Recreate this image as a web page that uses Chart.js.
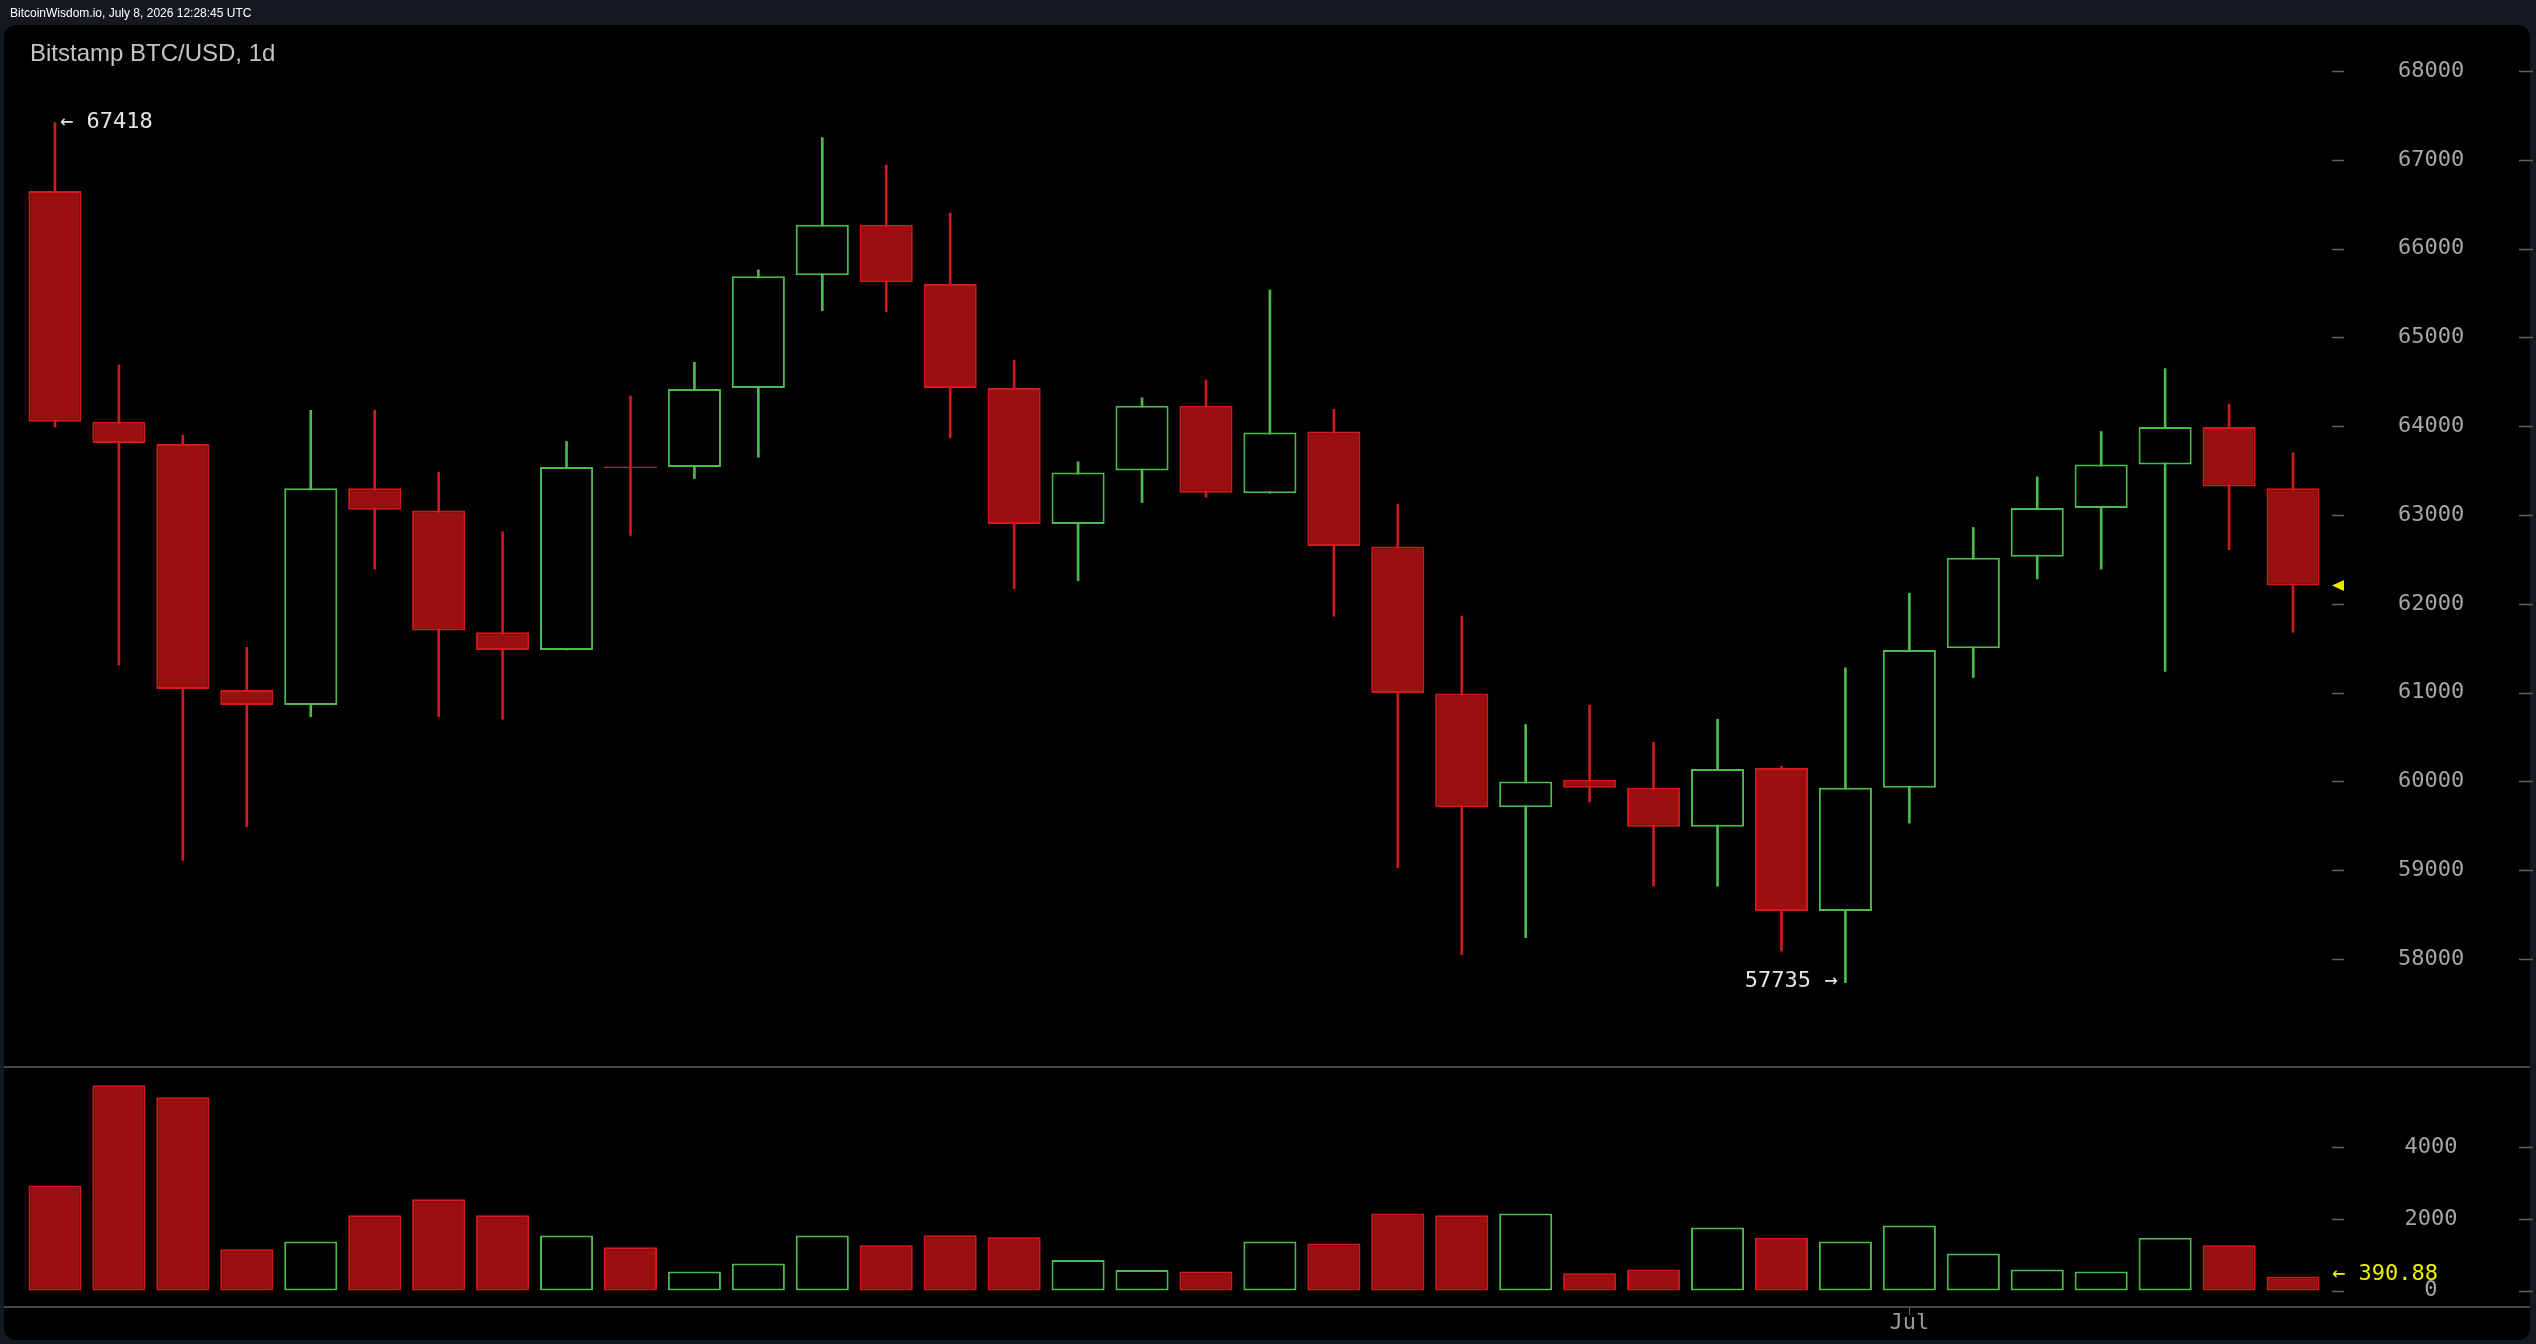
<!DOCTYPE html>
<html>
<head>
<meta charset="utf-8">
<script src="https://cdn.jsdelivr.net/npm/chart.js@4.4.1/dist/chart.umd.min.js"></script>
<style>
  html, body { margin:0; padding:0; width:2536px; height:1344px; background:#141821; overflow:hidden; }
  #panel { position:absolute; left:4px; top:25px; width:2526px; height:1315px; background:#000; border-radius:12px; }
  #hdr { position:absolute; left:10px; top:5px; font:12px 'Liberation Sans', Arial, sans-serif; color:#fff; line-height:16px; white-space:nowrap; }
  #title { position:absolute; left:30px; top:41px; font:24px 'Liberation Sans', Arial, sans-serif; color:#c4c4c4; line-height:24px; white-space:nowrap; }
  #wrap { position:absolute; left:0; top:0; width:2536px; height:1344px; }
</style>
</head>
<body>
<div id="panel"></div>
<div id="wrap"><canvas id="c" width="2536" height="1344"></canvas></div>
<div id="hdr">BitcoinWisdom.io, July 8, 2026 12:28:45 UTC</div>
<div id="title">Bitstamp BTC/USD, 1d</div>
<script>
// ---- data ----
const days = ['Jun 2','Jun 3','Jun 4','Jun 5','Jun 6','Jun 7','Jun 8','Jun 9','Jun 10','Jun 11',
  'Jun 12','Jun 13','Jun 14','Jun 15','Jun 16','Jun 17','Jun 18','Jun 19','Jun 20','Jun 21',
  'Jun 22','Jun 23','Jun 24','Jun 25','Jun 26','Jun 27','Jun 28','Jun 29','Jun 30',
  'Jul 1','Jul 2','Jul 3','Jul 4','Jul 5','Jul 6','Jul 7'];
const openP  = [66650,64050,63800,61030,60860,63300,63050,61680,61480,63545,63540,64430,65700,66270,65600,64430,62900,63500,
                64230,63245,63940,62645,60990,59710,60020,59930,59490,60150,58540,59930,61500,62530,63080,63570,63990,63300];
const highP  = [67418,64690,63900,61510,64180,64180,63480,62810,63830,64340,64720,65760,67250,66940,66400,64740,63600,64320,
                64520,65535,64190,63120,61860,60640,60860,60440,60700,60170,61280,62120,62860,63430,63940,64650,64250,63700];
const lowP   = [63990,61310,59110,59490,60730,62390,60730,60700,61480,62770,63410,63650,65300,65290,63870,62170,62260,63140,
                63200,63245,61860,59030,58050,58240,59770,58820,58820,58090,57735,59530,61170,62280,62390,61240,62610,61680];
const closeP = [64050,63810,61040,60860,63300,63060,61700,61480,63540,63530,64420,65690,66270,65620,64430,62900,63480,64230,
                63250,63930,62650,60995,59710,60000,59930,59490,60140,58540,59930,61480,62520,63080,63570,63990,63320,62207];
const volume = [2925,5720,5385,1150,1365,2100,2545,2100,1535,1205,530,755,1535,1265,1540,1485,855,575,
                530,1365,1310,2145,2100,2145,485,585,1755,1475,1365,1810,1030,585,530,1475,1265,390.88];
const priceTicks = [58000,59000,60000,61000,62000,63000,64000,65000,66000,67000,68000];
const volumeTicks = [0,2000,4000];
const highLabel = '← 67418';
const lowLabel = '57735 →';
const lastVolumeLabel = '← 390.88';

// ---- styles ----
const UP_LINE = '#4cbb4c', UP_FILL = '#000000';
const DN_LINE = '#d3191b', DN_FILL = '#9a0f10';
const isUp = days.map((d, i) => closeP[i] >= openP[i]);
const lineCol = isUp.map(u => u ? UP_LINE : DN_LINE);
const fillCol = isUp.map(u => u ? UP_FILL : DN_FILL);
const MONO = "'DejaVu Sans Mono', monospace";

const overlay = {
  id: 'overlay',
  afterDraw(chart) {
    const ctx = chart.ctx;
    const xs = chart.scales.x, ys = chart.scales.y, yv = chart.scales.yv;
    ctx.save();
    // panel separators
    ctx.strokeStyle = '#474747';
    ctx.lineWidth = 2;
    [ys.bottom, xs.top].forEach(py => {
      ctx.beginPath(); ctx.moveTo(4, py); ctx.lineTo(2530, py); ctx.stroke();
    });
    // tick dashes
    ctx.strokeStyle = '#626262';
    ctx.lineWidth = 1.5;
    [ys, yv].forEach(s => s.ticks.forEach(t => {
      const py = Math.round(s.getPixelForValue(t.value)) + 0.5;
      ctx.beginPath();
      ctx.moveTo(2332, py); ctx.lineTo(2344, py);
      ctx.moveTo(2519, py); ctx.lineTo(2533, py);
      ctx.stroke();
    }));
    // month tick on x axis
    ctx.lineWidth = 1;
    days.forEach((d, i) => {
      if (/ 1$/.test(d)) {
        const px = Math.round(xs.getPixelForValue(i)) + 0.5;
        ctx.beginPath(); ctx.moveTo(px, xs.top); ctx.lineTo(px, xs.top + 8); ctx.stroke();
      }
    });
    // last price marker
    const last = closeP.length - 1;
    const lp = ys.getPixelForValue(closeP[last]);
    ctx.fillStyle = '#e6e600';
    ctx.beginPath();
    ctx.moveTo(2332, lp); ctx.lineTo(2344, lp - 5.5); ctx.lineTo(2344, lp + 5.5); ctx.closePath(); ctx.fill();
    // high / low annotations
    ctx.font = '22px ' + MONO;
    ctx.textBaseline = 'middle';
    ctx.fillStyle = '#e4e4e4';
    let hi = 0, lo = 0;
    highP.forEach((v, i) => { if (v > highP[hi]) hi = i; });
    lowP.forEach((v, i) => { if (v < lowP[lo]) lo = i; });
    ctx.textAlign = 'left';
    ctx.fillText(highLabel, xs.getPixelForValue(hi) + 5, ys.getPixelForValue(highP[hi]));
    ctx.textAlign = 'right';
    ctx.fillText(lowLabel, xs.getPixelForValue(lo) - 8, ys.getPixelForValue(lowP[lo]) - 1);
    // last volume
    ctx.textAlign = 'left';
    ctx.fillStyle = '#f0f000';
    ctx.fillText(lastVolumeLabel, 2332, yv.getPixelForValue(volume[last]) - 2);
    ctx.restore();
  }
};

const yFit = s => { s.width = 211; s.paddingTop = 0; s.paddingBottom = 0; };

new Chart(document.getElementById('c'), {
  type: 'bar',
  data: {
    labels: days,
    datasets: [
      {
        label: 'body',
        data: days.map((d, i) => [openP[i], closeP[i]]),
        yAxisID: 'y',
        backgroundColor: fillCol,
        borderColor: lineCol,
        borderWidth: 2,
        borderSkipped: false,
        grouped: false,
        barPercentage: 0.83,
        categoryPercentage: 1,
        order: 1
      },
      {
        label: 'wick',
        data: days.map((d, i) => [lowP[i], highP[i]]),
        yAxisID: 'y',
        backgroundColor: lineCol,
        borderWidth: 0,
        grouped: false,
        barThickness: 2,
        order: 2
      },
      {
        label: 'volume',
        data: volume,
        yAxisID: 'yv',
        backgroundColor: fillCol,
        borderColor: lineCol,
        borderWidth: 2,
        borderSkipped: false,
        grouped: false,
        barPercentage: 0.83,
        categoryPercentage: 1,
        order: 1
      }
    ]
  },
  options: {
    responsive: false,
    animation: false,
    devicePixelRatio: 1,
    layout: { padding: { left: 23, right: 0, top: 25, bottom: 0 } },
    plugins: { legend: { display: false }, tooltip: { enabled: false }, title: { display: false } },
    scales: {
      x: {
        type: 'category',
        offset: true,
        grid: { display: false, drawTicks: false },
        border: { display: false },
        ticks: {
          autoSkip: false, maxRotation: 0, padding: 3,
          color: '#9a9a9a', font: { family: MONO, size: 22 },
          callback: (v, i) => / 1$/.test(days[i]) ? days[i].split(' ')[0] : ''
        },
        afterFit: s => { s.height = 37; s.paddingLeft = 0; s.paddingRight = 0; }
      },
      y: {
        position: 'right', stack: 'panes', stackWeight: 1042,
        min: 56784, max: 68518,
        grid: { display: false, drawTicks: false },
        border: { display: false },
        afterBuildTicks: s => { s.ticks = priceTicks.map(v => ({ value: v })); },
        ticks: { crossAlign: 'center', padding: 73, color: '#a6a6a6', font: { family: MONO, size: 22 },
                 callback: v => String(v) },
        afterFit: yFit
      },
      yv: {
        position: 'right', stack: 'panes', stackWeight: 240,
        min: -457, max: 6228,
        grid: { display: false, drawTicks: false },
        border: { display: false },
        afterBuildTicks: s => { s.ticks = volumeTicks.map(v => ({ value: v })); },
        ticks: { crossAlign: 'center', padding: 79.5, color: '#a6a6a6', font: { family: MONO, size: 22 },
                 callback: v => String(v) },
        afterFit: yFit
      }
    }
  },
  plugins: [overlay]
});
</script>
</body>
</html>
